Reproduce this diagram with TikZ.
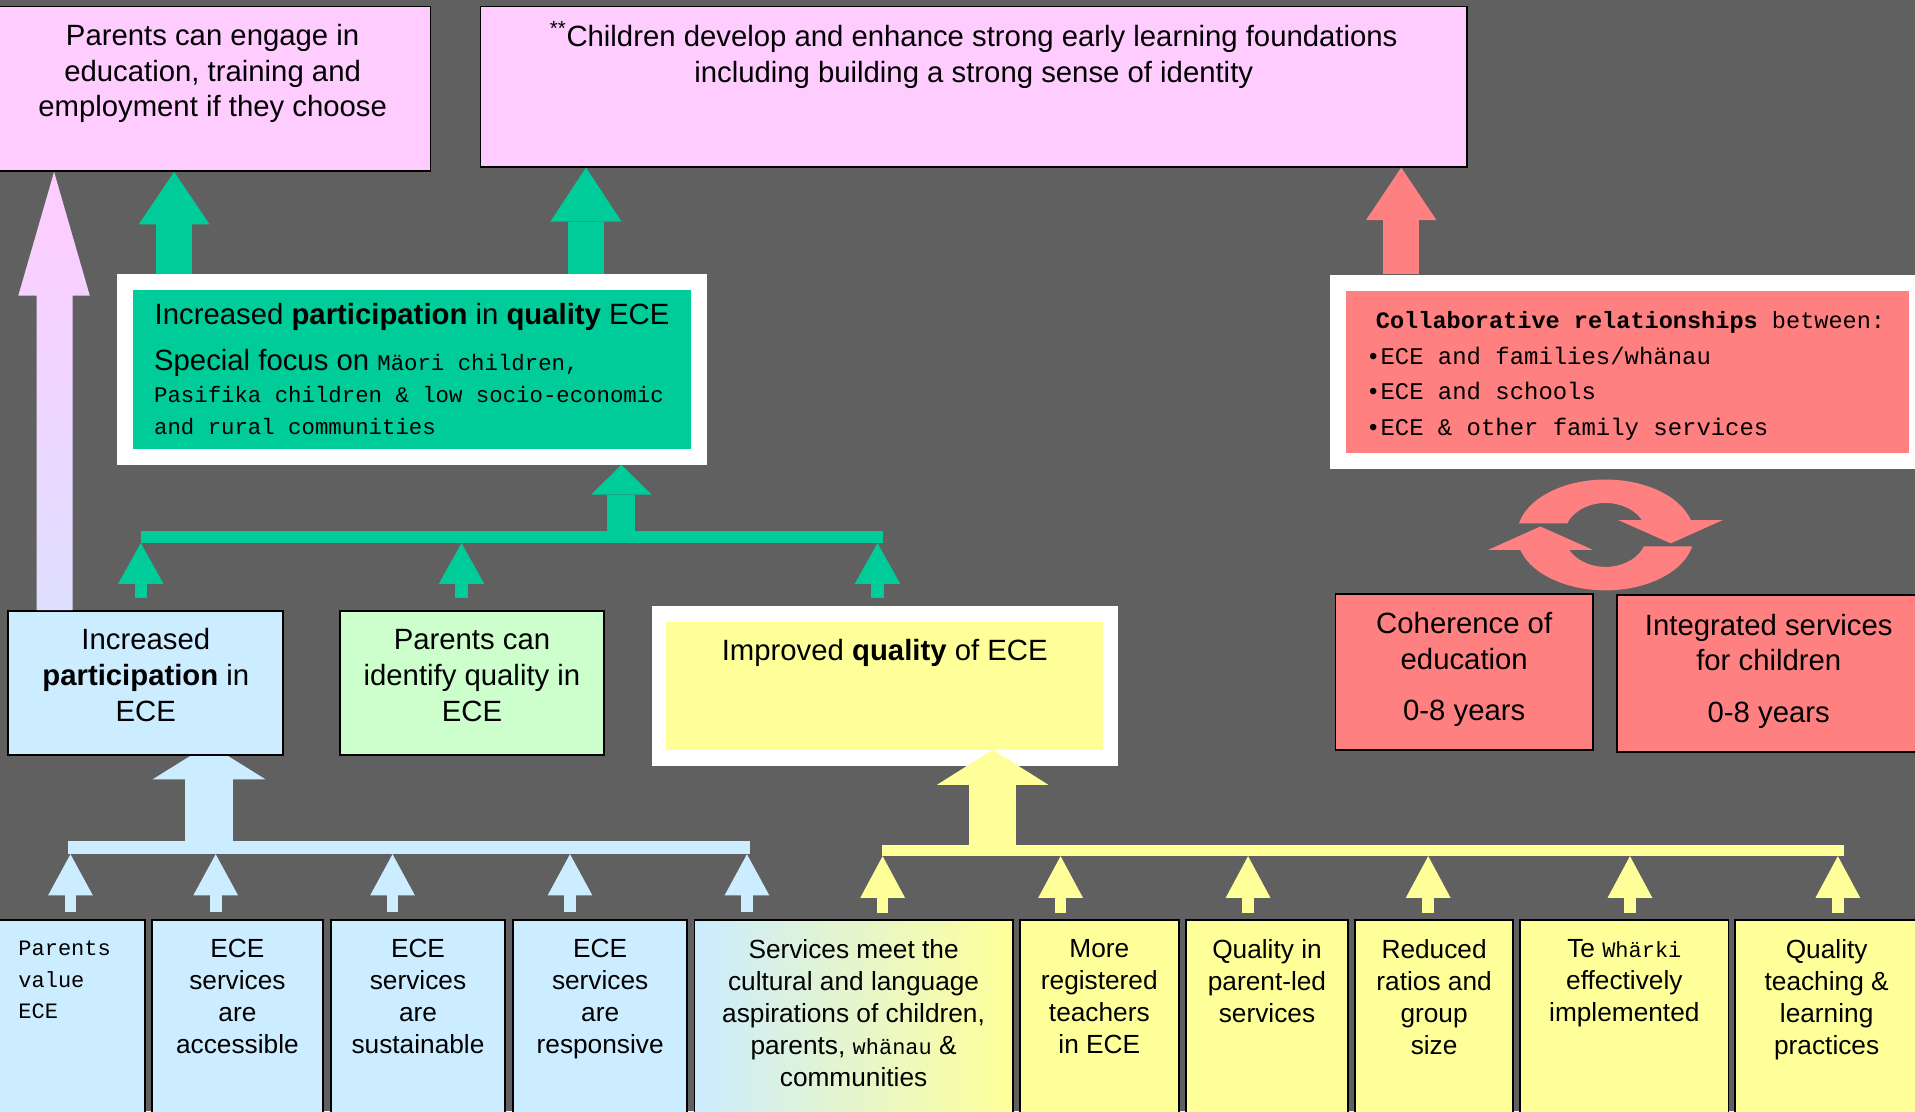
\documentclass[tikz,border=0pt]{standalone}
\usepackage{fontspec}
\setmainfont{Liberation Sans}
\newfontfamily\cour{Liberation Mono}
\usetikzlibrary{positioning,arrows.meta}

\definecolor{bggray}{RGB}{96,96,96}
\definecolor{pinkbox}{RGB}{255,204,255}
\definecolor{lavender}{RGB}{222,222,255}
\definecolor{greenbox}{RGB}{0,204,153}
\definecolor{redbox}{RGB}{255,128,128}
\definecolor{ltblue}{RGB}{204,236,255}
\definecolor{ltgreen}{RGB}{204,255,204}
\definecolor{ltyellow}{RGB}{255,255,153}

\newcommand{\bigtxt}{\fontsize{24}{29}\selectfont}
\newcommand{\smtxt}{\fontsize{21.5}{26.2}\selectfont}
\newcommand{\courtxt}[1]{{\cour\fontsize{18}{24}\selectfont #1}}

\begin{document}
\begin{tikzpicture}[x=1pt,y=-1pt,
    box/.style={draw=black,line width=1.5pt,inner sep=0pt,anchor=north west},
    plate/.style={inner sep=0pt,anchor=north west},
    sz/.style 2 args={minimum width=#1pt,minimum height=#2pt},
    lbl/.style={align=center,inner sep=0pt,anchor=north,execute at begin node={\rule{0pt}{20pt}}},
    lbll/.style={align=left,inner sep=0pt,anchor=north west,execute at begin node={\rule{0pt}{20pt}}},
    blk/.style n args={4}{draw=#1,line width=#2pt,-{Triangle[width=#3pt,length=#4pt,line width=0pt]}}]
  \useasboundingbox (0,0) rectangle (1568,910);
  \fill[bggray] (0,0) rectangle (1568,910);

  % outcomes at the top
  \node[box,fill=pinkbox,sz={356.7}{134.6}] (goalA) at (-5,4.6) {};
  \node[box,fill=pinkbox,sz={807.7}{131.1}] (goalB) at (392.7,4.6) {};
  \node[lbl,font=\bigtxt] at ([yshift=-15.2pt]goalA.north) {Parents can engage in\\education, training and\\employment if they choose};
  \node[lbl,font=\bigtxt] at ([yshift=-12.9pt]goalB.north) {\textsuperscript{**}Children develop and enhance strong early learning foundations\\including building a strong sense of identity};

  % participation in quality ECE
  \node[plate,fill=white,sz={482.7}{155.8}] (gframe) at (95.8,224.4) {};
  \node[plate,fill=greenbox,sz={456.9}{129.6}] (gpart) at (108.9,237.5) {};
  \node[lbl,anchor=base,font=\bigtxt] at (337.4,265.4) {Increased \textbf{participation} in \textbf{quality} ECE};
  \node[lbll,font=\cour\fontsize{18.3}{26.4}\selectfont] at (126,285.6)
    {{\rmfamily\fontsize{24}{26.4}\selectfont Special focus on }Mäori children,\\Pasifika children \& low socio-economic\\and rural communities};

  % collaborative relationships
  \node[plate,fill=white,sz={486.2}{158.9}] (rframe) at (1088.8,224.6) {};
  \node[plate,fill=redbox,sz={461}{132.7}] (rpart) at (1102,237.7) {};
  \node[lbl,anchor=base west,font=\cour\fontsize{19.3}{29}\selectfont] at (1126.4,268.6) {\textbf{Collaborative relationships} between:};
  \node[lbll,font=\cour\fontsize{19.6}{29}\selectfont] at (1118.4,284)
    {•ECE and families/whänau\\•ECE and schools\\•ECE \& other family services};

  % cycle arrows
  \begin{scope}[shift={(1314.6,438)},y=1pt]
    \fill[redbox] (-70.9,9.4) arc[start angle=168,end angle=15.6,x radius=72.5,y radius=45.4]
      -- (96,12.2) -- (53.4,-6.9) -- (10.4,12.2) -- (29.7,12.2)
      arc[start angle=27.8,end angle=159,x radius=33.6,y radius=26.2] -- cycle;
    \fill[redbox,rotate=180] (-70.9,9.4) arc[start angle=168,end angle=15.6,x radius=72.5,y radius=45.4]
      -- (96,12.2) -- (53.4,-6.9) -- (10.4,12.2) -- (29.7,12.2)
      arc[start angle=27.8,end angle=159,x radius=33.6,y radius=26.2] -- cycle;
  \end{scope}

  \node[box,fill=redbox,sz={210.9}{128.2}] (cohbox) at (1092.7,485.3) {};
  \node[box,fill=redbox,sz={249}{128.1}] (intbox) at (1323,486.6) {};
  \node[lbl,font=\fontsize{24}{28.8}\selectfont] at ([yshift=-16.2pt]cohbox.north) {Coherence of\\education\\[13.2pt]0-8 years};
  \node[lbl,font=\fontsize{24}{28.8}\selectfont] at ([yshift=-16pt]intbox.north) {Integrated services\\for children\\[13.7pt]0-8 years};

  % bottom row
  \node[box,fill=ltblue,sz={123.3}{165}] (pv) at (-5,752.5) {};
  \node[box,fill=ltblue,sz={140.1}{165}] (acc) at (123.6,752.5) {};
  \node[box,fill=ltblue,sz={142.8}{165}] (sus) at (270.1,752.5) {};
  \node[box,fill=ltblue,sz={142.7}{165}] (resp) at (419.3,752.5) {};
  \node[box,left color=ltblue,right color=ltyellow,sz={260.5}{165}] (cult) at (567.9,752.5) {};
  \node[box,fill=ltyellow,sz={130.5}{165}] (reg) at (834.1,752.5) {};
  \node[box,fill=ltyellow,sz={132.7}{165}] (plq) at (970.3,752.5) {};
  \node[box,fill=ltyellow,sz={129.6}{165}] (rat) at (1108.7,752.5) {};
  \node[box,fill=ltyellow,sz={170.5}{165}] (tw) at (1244,752.5) {};
  \node[box,fill=ltyellow,sz={150.2}{165}] (qt) at (1419.8,752.5) {};

  \node[lbll,font=\cour\fontsize{18}{26}\selectfont] at (14.9,770) {Parents\\value\\ECE};
  \node[lbl,font=\smtxt] at ([yshift=-16.5pt]acc.north) {ECE\\services\\are\\accessible};
  \node[lbl,font=\smtxt] at ([yshift=-16.5pt]sus.north) {ECE\\services\\are\\sustainable};
  \node[lbl,font=\smtxt] at ([yshift=-16.5pt]resp.north) {ECE\\services\\are\\responsive};
  \node[lbl,font=\smtxt] at ([yshift=-16.5pt]cult.north) {Services meet the\\cultural and language\\aspirations of children,\\parents, \courtxt{whänau} \&\\communities};
  \node[lbl,font=\smtxt] at ([yshift=-16.5pt]reg.north) {More\\registered\\teachers\\in ECE};
  \node[lbl,font=\smtxt] at ([yshift=-16.5pt]plq.north) {Quality in\\parent-led\\services};
  \node[lbl,font=\smtxt] at ([yshift=-16.5pt]rat.north) {Reduced\\ratios and\\group\\size};
  \node[lbl,font=\smtxt] at ([yshift=-16.5pt]tw.north) {Te \courtxt{Whärki}\\effectively\\implemented};
  \node[lbl,font=\smtxt] at ([yshift=-16.5pt]qt.north) {Quality\\teaching \&\\learning\\practices};

  % bars
  \node[plate,fill=greenbox,sz={607.4}{9.8}] (gbar) at (115.3,434.5) {};
  \node[plate,fill=ltblue,sz={558.7}{10.5}] (bbar) at (55.3,688.5) {};
  \node[plate,fill=ltyellow,sz={787.8}{9.3}] (ybar) at (722,691.3) {};

  % big blue arrow, its tip goes under the box
  \coordinate (bt) at (171.2,609.4);
  \draw[blk={ltblue}{39.6}{92.5}{28.7}] (bbar.center -| 171.2,0) -- (bt);

  % middle row
  \node[box,fill=ltblue,sz={225.3}{117.9}] (incbox) at (6,499.5) {};
  \node[box,fill=ltgreen,sz={216.2}{117.9}] (idbox) at (277.6,499.5) {};
  \node[plate,fill=white,sz={382}{131.1}] (qframe) at (533.5,495.6) {};
  \node[plate,fill=ltyellow,sz={357.4}{104.8}] (qpart) at (545.5,508.7) {};
  \node[lbl,font=\fontsize{24}{29.5}\selectfont] at ([yshift=-14.4pt]incbox.north) {Increased\\\textbf{participation} in\\ECE};
  \node[lbl,font=\fontsize{24}{29.5}\selectfont] at ([yshift=-15.4pt]idbox.north) {Parents can\\identify quality in\\ECE};
  \node[lbl,font=\bigtxt] at ([yshift=-11.7pt]qpart.north) {Improved \textbf{quality} of ECE};

  % arrows
  \shade[top color=pinkbox,bottom color=lavender] (incbox.north -| 30,0) -- (30,242) -- (15,242)
    -- (goalA.south -| 44.3,0) -- (73.5,242) -- (59.5,242) -- (incbox.north -| 59.5,0) -- cycle;
  \draw[blk={greenbox}{29}{58}{43}] (gframe.north -| 142.6,0) -- (goalA.south -| 142.6,0);
  \draw[blk={greenbox}{29}{58.4}{44.3}] (gframe.north -| 479.8,0) -- (goalB.south -| 479.8,0);
  \draw[blk={redbox}{29.3}{57.8}{43.1}] (rframe.north -| 1147.3,0) -- (goalB.south -| 1147.3,0);
  \draw[blk={greenbox}{22.9}{49.4}{24.3}] (gbar.center -| 508.8,0) -- (gframe.south -| 508.8,0);
  \draw[blk={greenbox}{10}{37.2}{33.3},shorten <=9.5pt] (incbox.north -| 115.3,0) -- (gbar.south -| 115.3,0);
  \draw[blk={greenbox}{10}{37.2}{33.3},shorten <=9.5pt] (idbox.north -| 377.9,0) -- (gbar.south -| 377.9,0);
  \draw[blk={greenbox}{10}{37.2}{33.3},shorten <=5.6pt] (qframe.north -| 718.5,0) -- (gbar.south -| 718.5,0);
  \draw[blk={ltyellow}{38.3}{91.2}{28.7}] (ybar.center -| 812.8,0) -- (qpart.south -| 812.8,0);

  \draw[blk={ltblue}{9.6}{36.6}{33.7},shorten <=6pt] (pv.north -| 57.7,0) -- (bbar.south -| 57.7,0);
  \draw[blk={ltblue}{9.6}{36.6}{33.7},shorten <=6pt] (acc.north -| 176.6,0) -- (bbar.south -| 176.6,0);
  \draw[blk={ltblue}{9.6}{36.6}{33.7},shorten <=6pt] (sus.north -| 321.4,0) -- (bbar.south -| 321.4,0);
  \draw[blk={ltblue}{9.6}{36.6}{33.7},shorten <=6pt] (resp.north -| 466.7,0) -- (bbar.south -| 466.7,0);
  \draw[blk={ltblue}{9.6}{36.6}{33.7},shorten <=6pt] (cult.north -| 611.6,0) -- (bbar.south -| 611.6,0);

  \draw[blk={ltyellow}{9.4}{36.6}{34.1},shorten <=4.7pt] (cult.north -| 722.7,0) -- (ybar.south -| 722.7,0);
  \draw[blk={ltyellow}{9.4}{36.6}{34.1},shorten <=4.7pt] (reg.north -| 868.4,0) -- (ybar.south -| 868.4,0);
  \draw[blk={ltyellow}{9.4}{36.6}{34.1},shorten <=4.7pt] (plq.north -| 1021.9,0) -- (ybar.south -| 1021.9,0);
  \draw[blk={ltyellow}{9.4}{36.6}{34.1},shorten <=4.7pt] (rat.north -| 1169.4,0) -- (ybar.south -| 1169.4,0);
  \draw[blk={ltyellow}{9.4}{36.6}{34.1},shorten <=4.7pt] (tw.north -| 1334.6,0) -- (ybar.south -| 1334.6,0);
  \draw[blk={ltyellow}{9.4}{36.6}{34.1},shorten <=4.7pt] (qt.north -| 1504.8,0) -- (ybar.south -| 1504.8,0);
\end{tikzpicture}
\end{document}
